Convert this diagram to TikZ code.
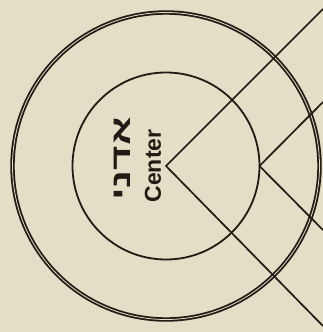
\documentclass[tikz,border=0pt]{standalone}
\usepackage{fontspec}
\setmainfont{Liberation Sans}
\newfontfamily\hebfont[Script=Hebrew]{Liberation Sans}
\TeXXeTstate=1
\definecolor{bg}{RGB}{228,222,198}
\definecolor{ink}{RGB}{34,26,20}
\begin{document}
\begin{tikzpicture}[x=1pt,y=-1pt,
  ray/.style={draw=ink,line width=1.7pt},
  ring/.style={circle,draw=ink,inner sep=0pt,outer sep=0pt},
  label/.style={text=ink,inner sep=0pt,rotate=90}]
\fill[bg] (0,0) rectangle (323,332);
\useasboundingbox (0,0) rectangle (323,332);
\coordinate (C) at (166,166);
\node[ring,line width=1.8pt,minimum size=187pt] (inner) at (C) {};
\node[ring,line width=1.8pt,double=bg,double distance=0.8pt,minimum size=307pt] (outer) at (C) {};
\coordinate (V2) at (inner.east);
\coordinate (A) at (323,9);
\coordinate (B) at (323,326);
\coordinate (D) at (323,102);
\coordinate (E) at (323,230);
\begin{scope}
\clip (0,0) rectangle (323,332);
\draw[ray] (A) -- (C) -- (B);
\draw[ray] (D) -- (V2) -- (E);
\end{scope}
\node[label,xscale=1.55,font=\hebfont\bfseries\fontsize{27}{27}\selectfont] (heb) at (122,159) {\beginR אדני\endR};
\node[label,font=\bfseries\fontsize{23}{23}\selectfont] (cen) at (153,166) {Center};
\end{tikzpicture}
\end{document}
